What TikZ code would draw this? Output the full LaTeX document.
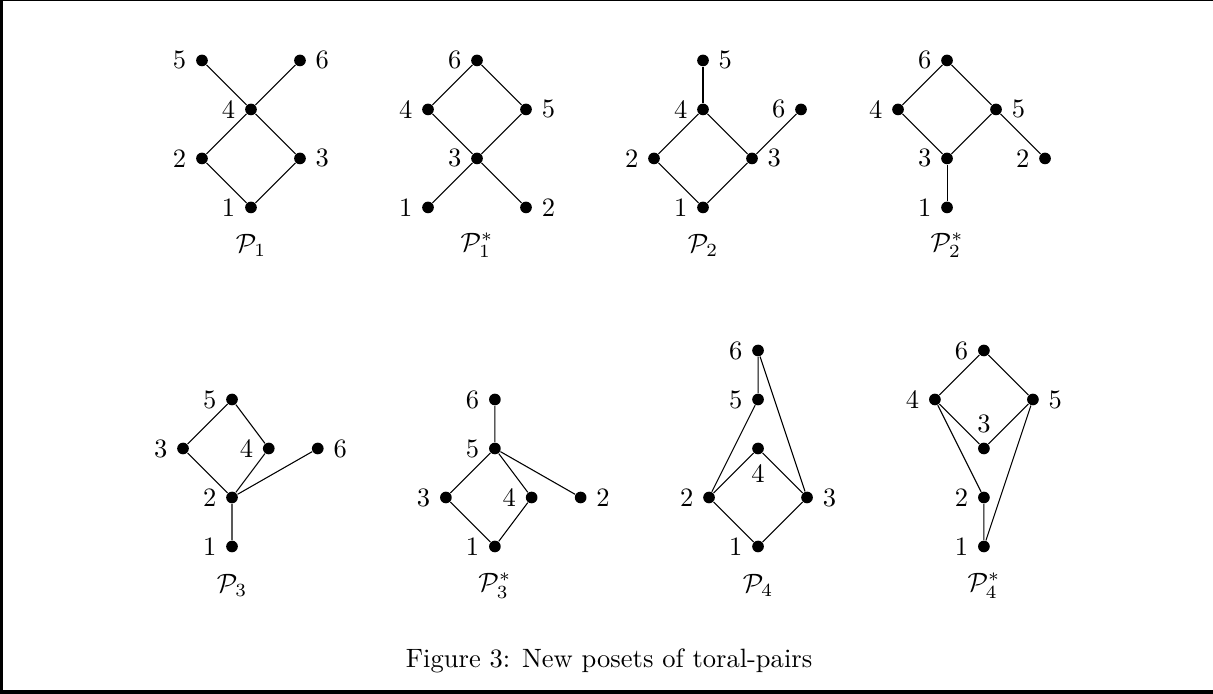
\documentclass[tikz,border=0pt]{standalone}
\usepackage{amsmath, amssymb}
\usepackage{tikz}

\begin{document}
\begin{tikzpicture}[x=18.47pt, y=18.47pt,
    vtx/.style={circle, fill=black, inner sep=0pt, minimum size=4.4pt},
    every label/.style={inner sep=3.33pt}]
    \useasboundingbox (0,0) rectangle (24.755,14.163);
    % frame (cut off on the right)
    \fill (0,0) rectangle (0.055,14.163);
    \fill (0,14.136) rectangle (24.755,14.163);
    \fill (0,0) rectangle (24.755,0.071);

    % P_1
    \begin{scope}[shift={(5.122,9.929)}]
        \node[vtx, label=left:1] (a1) at (0,0) {};
        \node[vtx, label=left:2] (a2) at (-1,1) {};
        \node[vtx, label=right:3] (a3) at (1,1) {};
        \node[vtx, label=left:4] (a4) at (0,2) {};
        \node[vtx, label=left:5] (a5) at (-1,3) {};
        \node[vtx, label=right:6] (a6) at (1,3) {};
        \draw (a1) -- (a2) -- (a4) -- (a3) -- (a1);
        \draw (a5) -- (a4) -- (a6);
        \node (a) at (0,-0.77) {$\mathcal{P}_1$};
    \end{scope}

    % P_1^*
    \begin{scope}[shift={(9.735,9.929)}]
        \node[vtx, label=left:1] (b1) at (-1,0) {};
        \node[vtx, label=right:2] (b2) at (1,0) {};
        \node[vtx, label=left:3] (b3) at (0,1) {};
        \node[vtx, label=left:4] (b4) at (-1,2) {};
        \node[vtx, label=right:5] (b5) at (1,2) {};
        \node[vtx, label=left:6] (b6) at (0,3) {};
        \draw (b1) -- (b3) -- (b2);
        \draw (b3) -- (b4) -- (b6) -- (b5) -- (b3);
        \node (b) at (0,-0.77) {$\mathcal{P}_1^*$};
    \end{scope}

    % P_2
    \begin{scope}[shift={(14.347,9.929)}]
        \node[vtx, label=left:1] (c1) at (0,0) {};
        \node[vtx, label=left:2] (c2) at (-1,1) {};
        \node[vtx, label=right:3] (c3) at (1,1) {};
        \node[vtx, label=left:4] (c4) at (0,2) {};
        \node[vtx, label=right:5] (c5) at (0,3) {};
        \node[vtx, label=left:6] (c6) at (2,2) {};
        \draw (c1) -- (c2) -- (c4) -- (c3) -- (c1);
        \draw (c4) -- (c5);
        \draw (c3) -- (c6);
        \node (c) at (0,-0.77) {$\mathcal{P}_2$};
    \end{scope}

    % P_2^*
    \begin{scope}[shift={(19.327,9.929)}]
        \node[vtx, label=left:1] (d1) at (0,0) {};
        \node[vtx, label=left:2] (d2) at (2,1) {};
        \node[vtx, label=left:3] (d3) at (0,1) {};
        \node[vtx, label=left:4] (d4) at (-1,2) {};
        \node[vtx, label=right:5] (d5) at (1,2) {};
        \node[vtx, label=left:6] (d6) at (0,3) {};
        \draw (d1) -- (d3);
        \draw (d3) -- (d4) -- (d6) -- (d5) -- (d3);
        \draw (d5) -- (d2);
        \node (d) at (0,-0.77) {$\mathcal{P}_2^*$};
    \end{scope}

    % P_3
    \begin{scope}[shift={(4.735,3.01)}]
        \node[vtx, label=left:1] (e1) at (0,0) {};
        \node[vtx, label=left:2] (e2) at (0,1) {};
        \node[vtx, label=left:3] (e3) at (-1,2) {};
        \node[vtx, label=left:4] (e4) at (0.75,2) {};
        \node[vtx, label=left:5] (e5) at (0,3) {};
        \node[vtx, label=right:6] (e6) at (1.75,2) {};
        \draw (e1) -- (e2) -- (e3) -- (e5) -- (e4) -- (e2) -- (e6);
        \node (e) at (0,-0.8) {$\mathcal{P}_3$};
    \end{scope}

    % P_3^*
    \begin{scope}[shift={(10.10,3.01)}]
        \node[vtx, label=left:1] (f1) at (0,0) {};
        \node[vtx, label=right:2] (f2) at (1.75,1) {};
        \node[vtx, label=left:3] (f3) at (-1,1) {};
        \node[vtx, label=left:4] (f4) at (0.75,1) {};
        \node[vtx, label=left:5] (f5) at (0,2) {};
        \node[vtx, label=left:6] (f6) at (0,3) {};
        \draw (f1) -- (f3) -- (f5) -- (f4) -- (f1);
        \draw (f2) -- (f5) -- (f6);
        \node (f) at (0,-0.8) {$\mathcal{P}_3^*$};
    \end{scope}

    % P_4
    \begin{scope}[shift={(15.47,3.01)}]
        \node[vtx, label=left:1] (g1) at (0,0) {};
        \node[vtx, label=left:2] (g2) at (-1,1) {};
        \node[vtx, label=right:3] (g3) at (1,1) {};
        \node[vtx, label=below:4] (g4) at (0,2) {};
        \node[vtx, label=left:5] (g5) at (0,3) {};
        \node[vtx, label=left:6] (g6) at (0,4) {};
        \draw (g1) -- (g2) -- (g4) -- (g3) -- (g1);
        \draw (g2) -- (g5) -- (g6) -- (g3);
        \node (g) at (0,-0.8) {$\mathcal{P}_4$};
    \end{scope}

    % P_4^*
    \begin{scope}[shift={(20.08,3.01)}]
        \node[vtx, label=left:1] (h1) at (0,0) {};
        \node[vtx, label=left:2] (h2) at (0,1) {};
        \node[vtx, label=above:3] (h3) at (0,2) {};
        \node[vtx, label=left:4] (h4) at (-1,3) {};
        \node[vtx, label=right:5] (h5) at (1,3) {};
        \node[vtx, label=left:6] (h6) at (0,4) {};
        \draw (h1) -- (h2) -- (h4) -- (h6) -- (h5) -- (h1);
        \draw (h4) -- (h3) -- (h5);
        \node (h) at (0,-0.8) {$\mathcal{P}_4^*$};
    \end{scope}

    \node (cap) at (12.43,0.673) {Figure 3: New posets of toral-pairs};
\end{tikzpicture}
\end{document}
